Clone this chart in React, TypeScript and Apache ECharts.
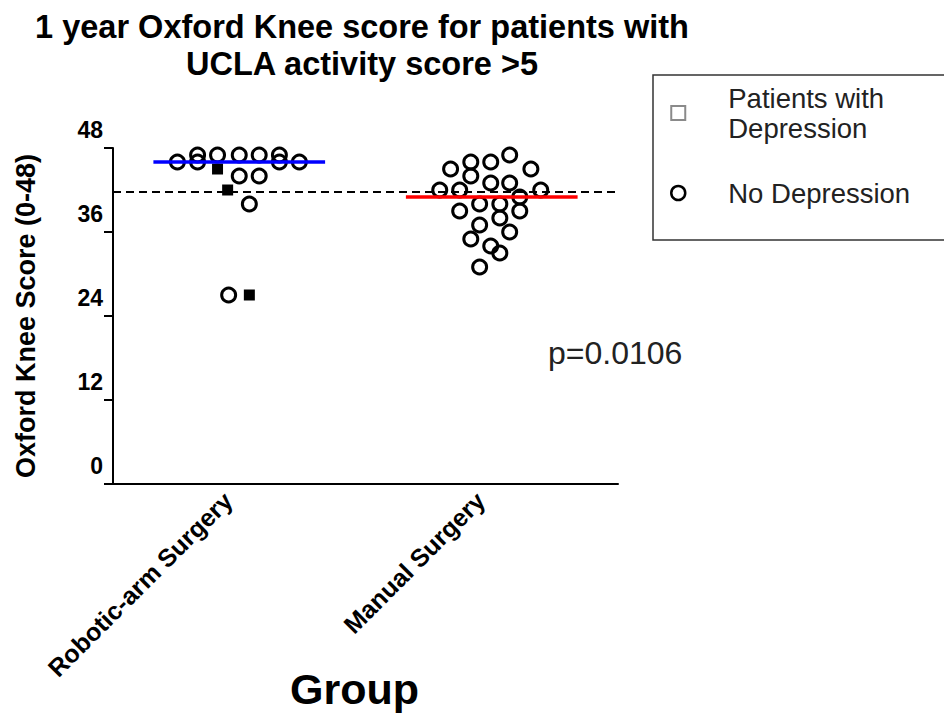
import React, { useEffect, useRef } from "react";
import * as echarts from "echarts";

const FONT = "'Liberation Sans', Arial, Helvetica, sans-serif";

const titleText = "1 year Oxford Knee score for patients with\nUCLA activity score >5";
const categories = ["Robotic-arm Surgery", "Manual Surgery"];
const yAxisName = "Oxford Knee Score (0-48)";
const xAxisName = "Group";
const pValueText = "p=0.0106";
const thresholdScore = 41.8;

// [horizontal jitter within the group (fraction of group width), score]
const roboticNoDepression: [number, number][] = [
  [-0.165, 47], [-0.086, 47], [0, 47], [0.079, 47], [0.159, 47],
  [-0.245, 46], [-0.165, 46], [0.159, 46], [0.238, 46],
  [0, 44], [0.079, 44], [0.04, 40], [-0.042, 27],
];
const roboticDepression: [number, number][] = [
  [-0.086, 45], [-0.046, 42], [0.04, 27],
];
const manualNoDepression: [number, number][] = [
  [0.071, 47], [-0.083, 46], [-0.004, 46], [-0.163, 45], [0.155, 45],
  [-0.083, 44], [-0.004, 43], [0.071, 43], [-0.206, 42], [-0.127, 42],
  [0.194, 42], [0.111, 41], [-0.048, 40], [0.032, 40], [-0.127, 39],
  [0.111, 39], [0.032, 38], [-0.048, 37], [0.071, 36], [-0.083, 35],
  [-0.004, 34], [0.032, 33], [-0.048, 31],
];
const manualDepression: [number, number][] = [];

const medianColors = ["#0000ff", "#ff0000"];

function median(vals: number[]): number {
  const s = [...vals].sort((a, b) => a - b);
  const n = s.length;
  return n % 2 ? s[(n - 1) / 2] : (s[n / 2 - 1] + s[n / 2]) / 2;
}

function place(idx: number, pts: [number, number][]) {
  return pts.map(([dx, y]) => [idx + 0.5 + dx, y]);
}

export default function App() {
  const ref = useRef<HTMLDivElement>(null);
  useEffect(() => {
    document.body.style.margin = "0";
    if (!ref.current) return;
    const chart = echarts.init(ref.current, undefined, { renderer: "svg" });

    const groups = [
      [...roboticNoDepression, ...roboticDepression],
      [...manualNoDepression, ...manualDepression],
    ];
    const halfWidth = 0.34;
    const medianSeries = groups.map((g, i) => {
      const m = median(g.map((p) => p[1]));
      return {
        type: "line",
        name: "Median " + categories[i],
        xAxisIndex: 1,
        data: [
          [i + 0.5 - halfWidth, m],
          [i + 0.5 + halfWidth, m],
        ],
        showSymbol: false,
        symbol: "none",
        silent: true,
        z: 5,
        lineStyle: { color: medianColors[i], width: 3.5 },
      };
    });

    const option: any = {
      animation: false,
      backgroundColor: "#ffffff",
      textStyle: { fontFamily: FONT },
      title: {
        text: titleText,
        left: 362,
        top: 8,
        textAlign: "center",
        padding: 0,
        textStyle: {
          fontFamily: FONT,
          fontSize: 32.5,
          fontWeight: "bold",
          lineHeight: 37,
          color: "#000",
        },
      },
      legend: {
        orient: "vertical",
        left: 670,
        top: 83,
        padding: 0,
        itemGap: 35,
        itemWidth: 14,
        itemHeight: 14,
        selectedMode: false,
        data: [
          {
            name: "Patients with Depression",
            icon: "rect",
            itemStyle: { color: "rgba(0,0,0,0)", borderColor: "#8a8a8a", borderWidth: 2 },
          },
          {
            name: "No Depression",
            icon: "circle",
            itemStyle: { color: "rgba(0,0,0,0)", borderColor: "#000", borderWidth: 2.5 },
          },
        ],
        formatter: (n: string) => (n === "Patients with Depression" ? "Patients with\nDepression" : n),
        textStyle: {
          fontFamily: FONT,
          fontSize: 27.5,
          lineHeight: 30,
          color: "#222",
          padding: [0, 0, 0, 38],
        },
      },
      grid: {
        left: 113,
        right: 326,
        top: 148,
        bottom: 229,
        containLabel: false,
        outerBoundsMode: "none",
      },
      xAxis: [
        {
          type: "category",
          data: categories,
          boundaryGap: true,
          name: xAxisName,
          nameLocation: "middle",
          nameGap: 183,
          nameMoveOverlap: false,
          nameTextStyle: {
            fontFamily: FONT,
            fontSize: 43,
            fontWeight: "bold",
            color: "#000",
            padding: [0, 22, 0, 0],
          },
          axisLine: { lineStyle: { color: "#000", width: 2 } },
          axisTick: { alignWithLabel: true, length: 10, lineStyle: { color: "#000", width: 2 } },
          axisLabel: {
            rotate: 45,
            interval: 0,
            margin: 1,
            padding: [0, 16, 0, 0],
            fontFamily: FONT,
            fontSize: 25,
            fontWeight: "bold",
            color: "#000",
          },
          splitLine: { show: false },
        },
        {
          type: "value",
          min: 0,
          max: 2,
          show: false,
          splitLine: { show: false },
        },
      ],
      yAxis: {
        type: "value",
        min: 0,
        max: 48,
        interval: 12,
        name: yAxisName,
        nameLocation: "middle",
        nameRotate: 90,
        nameGap: 74,
        nameMoveOverlap: false,
        nameTextStyle: { fontFamily: FONT, fontSize: 27, fontWeight: "bold", color: "#000" },
        axisLine: { show: true, lineStyle: { color: "#000", width: 2 } },
        axisTick: { show: true, length: 9, lineStyle: { color: "#000", width: 2 } },
        axisLabel: {
          margin: 10,
          fontFamily: FONT,
          fontSize: 23,
          fontWeight: "bold",
          color: "#000",
          verticalAlign: "bottom",
          lineHeight: 24,
          padding: [0, 0, 6, 0],
        },
        splitLine: { show: false },
      },
      series: [
        {
          type: "scatter",
          name: "No Depression",
          xAxisIndex: 1,
          symbol: "circle",
          symbolSize: 14,
          itemStyle: { color: "rgba(0,0,0,0)", borderColor: "#000", borderWidth: 3, opacity: 1 },
          data: [...place(0, roboticNoDepression), ...place(1, manualNoDepression)],
          z: 3,
          markLine: {
            silent: true,
            symbol: ["none", "none"],
            label: { show: false },
            lineStyle: { color: "#000", type: [8, 5], width: 2 },
            data: [{ yAxis: thresholdScore }],
          },
        },
        {
          type: "scatter",
          name: "Patients with Depression",
          xAxisIndex: 1,
          symbol: "rect",
          symbolSize: 11,
          itemStyle: { color: "#000", opacity: 1 },
          data: [...place(0, roboticDepression), ...place(1, manualDepression)],
          z: 4,
        },
        ...medianSeries,
      ],
      graphic: [
        {
          type: "rect",
          shape: { x: 653, y: 75, width: 300, height: 165 },
          style: { fill: "none", stroke: "#333", lineWidth: 1.5 },
          silent: true,
        },
        {
          type: "text",
          left: 548,
          top: 337,
          style: { text: pValueText, fontFamily: FONT, fontSize: 32, fill: "#222" },
          silent: true,
        },
      ],
    };
    chart.setOption(option);
    return () => chart.dispose();
  }, []);
  return <div ref={ref} style={{ width: 944, height: 713 }} />;
}
